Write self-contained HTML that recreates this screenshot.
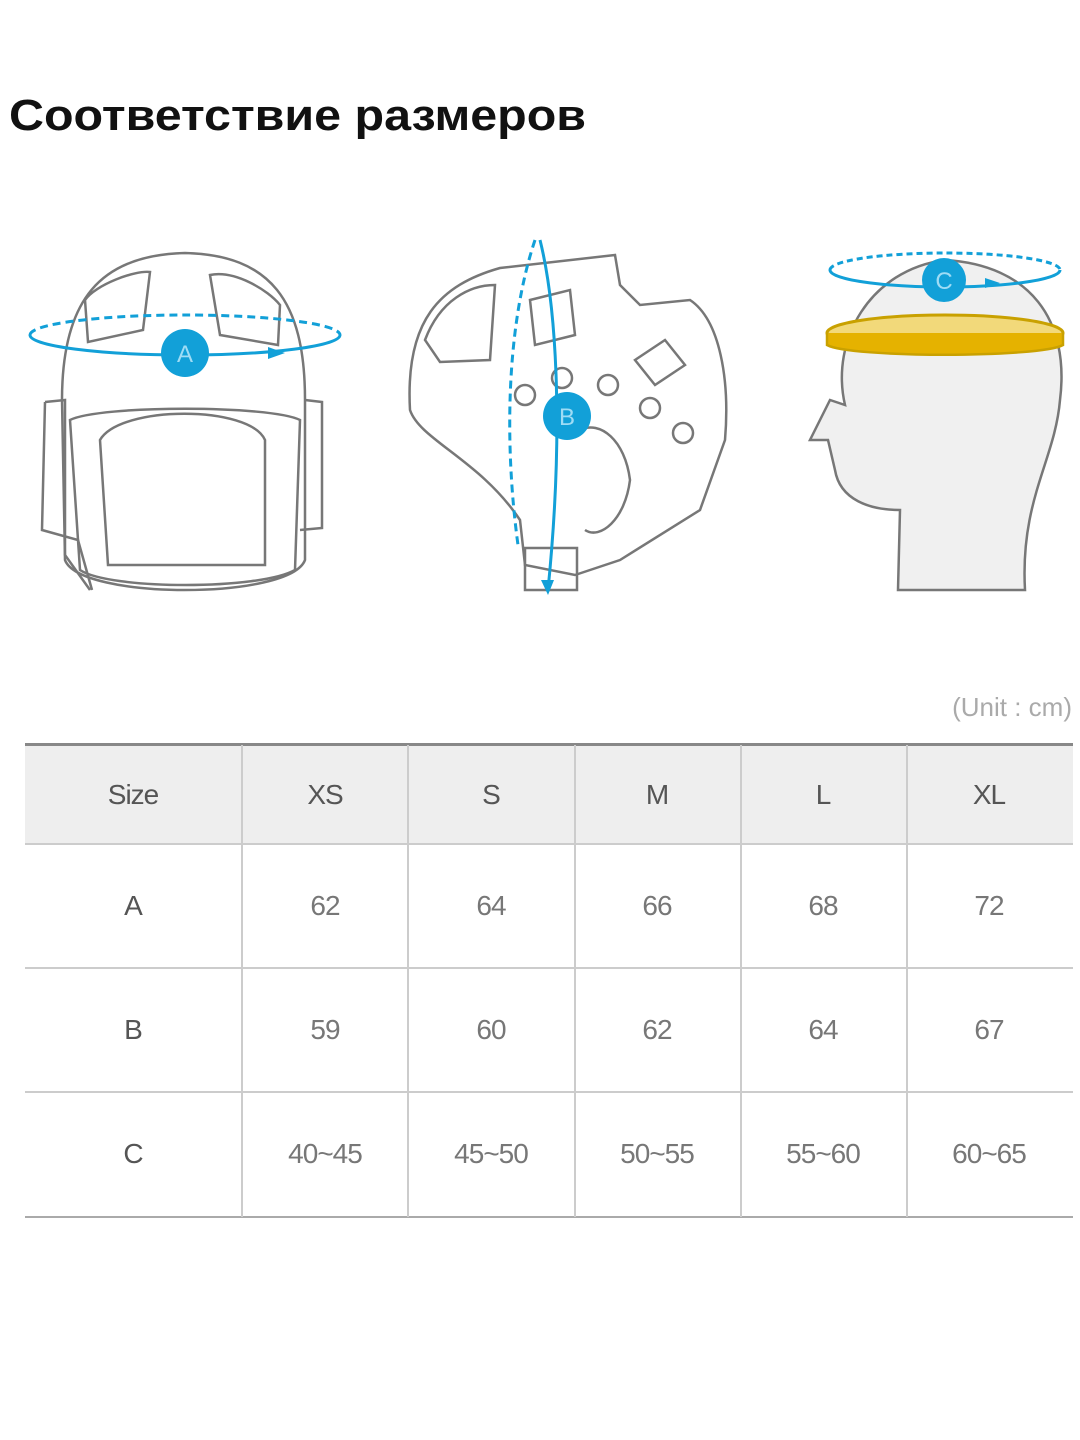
<!DOCTYPE html>
<html><head><meta charset="utf-8"><style>
body{margin:0;width:1080px;height:1440px;background:#fff;position:relative;overflow:hidden;font-family:"Liberation Sans",sans-serif}
h1{position:absolute;left:9px;top:88px;margin:0;font-size:44px;font-weight:bold;color:#111;transform:scaleX(1.1);transform-origin:0 0;line-height:56px}
.t{position:absolute;font-size:28px;color:#777;transform:translateX(-50%);letter-spacing:-1px}
.h{color:#555}
</style></head><body>
<h1>Соответствие размеров</h1>
<svg width="1080" height="640" style="position:absolute;left:0;top:0" fill="none" stroke="#777" stroke-width="2.5">
<path d="M62 400 C62 300 100 255 185 253 C270 255 305 300 305 400 L305 560 C290 600 80 600 65 560 Z" fill="#fff"/>
<path d="M45 402 L65 400 L65 555 L90 590 M305 400 L322 402 L322 528 L300 530"/>
<path d="M70 420 C100 405 270 405 300 420 L295 570 C260 590 110 590 80 570 Z"/>
<path d="M100 440 C120 405 250 405 265 440 L265 565 L108 565 Z"/>
<path d="M85 300 C95 285 135 270 150 272 L143 330 L88 342 Z M210 275 C235 270 268 290 280 305 L278 345 L220 335 Z"/>
<path d="M45 402 L42 530 L78 540 L92 590" />
<path d="M410 410 C405 320 440 285 500 268 L615 255 L620 285 L640 305 L690 300 C720 320 730 380 725 440 L700 510 L620 560 L575 575 L525 565 L520 520 C480 460 420 440 410 410 Z" fill="#fff"/>
<rect x="525" y="548" width="52" height="42"/>
<path d="M425 340 C440 300 470 285 495 285 L490 360 L440 362 Z M530 300 L570 290 L575 335 L535 345 Z M635 360 L665 340 L685 365 L655 385 Z"/>
<path d="M580 430 C600 420 625 440 630 480 C625 520 600 540 585 530"/>
<circle cx="525" cy="395" r="10"/><circle cx="562" cy="378" r="10"/><circle cx="608" cy="385" r="10"/><circle cx="650" cy="408" r="10"/><circle cx="683" cy="433" r="10"/>
<path d="M845 405 C830 340 870 270 945 260 C1030 265 1070 320 1060 400 C1055 460 1020 500 1025 590 L898 590 L900 510 C870 510 840 500 835 470 L828 440 L810 440 L830 400 Z" fill="#f0f0f0"/>
<ellipse cx="945" cy="333" rx="118" ry="18" fill="#f2d97a" stroke="#c9a100" stroke-width="3"/>
<path d="M827 333 L827 345 C850 358 1040 358 1063 345 L1063 333" stroke="#c9a100" fill="#e5b200"/>
<g stroke="#12a0d8" stroke-width="3">
<path d="M30 335 A155 20 0 0 1 340 335" stroke-dasharray="8 5"/>
<path d="M30 335 A155 20 0 0 0 340 335"/>
<path d="M540 240 C555 300 565 420 548 590"/>
<path d="M535 240 C505 330 505 450 518 545" stroke-dasharray="8 5"/>
<path d="M830 270 A115 17 0 0 1 1060 270" stroke-dasharray="6 4"/>
<path d="M830 270 A115 17 0 0 0 1060 270"/>
</g>
<g fill="#12a0d8" stroke="none">
<circle cx="185" cy="353" r="24"/><circle cx="567" cy="416" r="24"/><circle cx="944" cy="280" r="22"/>
<path d="M268 347 L285 353 L268 359Z M541 580 L548 595 L554 580Z M985 278 L1000 283 L985 288Z"/>
</g>
<g fill="#9fdcf5" stroke="none" font-size="24" font-family="Liberation Sans" text-anchor="middle">
<text x="185" y="362">A</text><text x="567" y="425">B</text><text x="944" y="289">C</text></g>
</svg>
<div style="position:absolute;right:8px;top:692px;font-size:26px;color:#aaa">(Unit : cm)</div>
<div style="position:absolute;left:25px;top:744px;width:1048px;height:99px;background:#eee"></div>
<div style="position:absolute;left:25px;top:743px;width:1048px;height:3px;background:#888"></div>
<div style="position:absolute;left:25px;top:843px;width:1048px;height:2px;background:#ccc"></div>
<div style="position:absolute;left:25px;top:967px;width:1048px;height:2px;background:#ccc"></div>
<div style="position:absolute;left:25px;top:1091px;width:1048px;height:2px;background:#ccc"></div>
<div style="position:absolute;left:25px;top:1216px;width:1048px;height:2px;background:#aaa"></div>
<div style="position:absolute;left:241px;top:745px;width:2px;height:472px;background:#ccc"></div>
<div style="position:absolute;left:407px;top:745px;width:2px;height:472px;background:#ccc"></div>
<div style="position:absolute;left:574px;top:745px;width:2px;height:472px;background:#ccc"></div>
<div style="position:absolute;left:740px;top:745px;width:2px;height:472px;background:#ccc"></div>
<div style="position:absolute;left:906px;top:745px;width:2px;height:472px;background:#ccc"></div>
<div class="t h" style="left:133px;top:779px">Size</div><div class="t h" style="left:325px;top:779px">XS</div><div class="t h" style="left:491px;top:779px">S</div><div class="t h" style="left:657px;top:779px">M</div><div class="t h" style="left:823px;top:779px">L</div><div class="t h" style="left:989px;top:779px">XL</div>
<div class="t h" style="left:133px;top:890px">A</div><div class="t" style="left:325px;top:890px">62</div><div class="t" style="left:491px;top:890px">64</div><div class="t" style="left:657px;top:890px">66</div><div class="t" style="left:823px;top:890px">68</div><div class="t" style="left:989px;top:890px">72</div>
<div class="t h" style="left:133px;top:1014px">B</div><div class="t" style="left:325px;top:1014px">59</div><div class="t" style="left:491px;top:1014px">60</div><div class="t" style="left:657px;top:1014px">62</div><div class="t" style="left:823px;top:1014px">64</div><div class="t" style="left:989px;top:1014px">67</div>
<div class="t h" style="left:133px;top:1138px">C</div><div class="t" style="left:325px;top:1138px">40~45</div><div class="t" style="left:491px;top:1138px">45~50</div><div class="t" style="left:657px;top:1138px">50~55</div><div class="t" style="left:823px;top:1138px">55~60</div><div class="t" style="left:989px;top:1138px">60~65</div>
</body></html>
